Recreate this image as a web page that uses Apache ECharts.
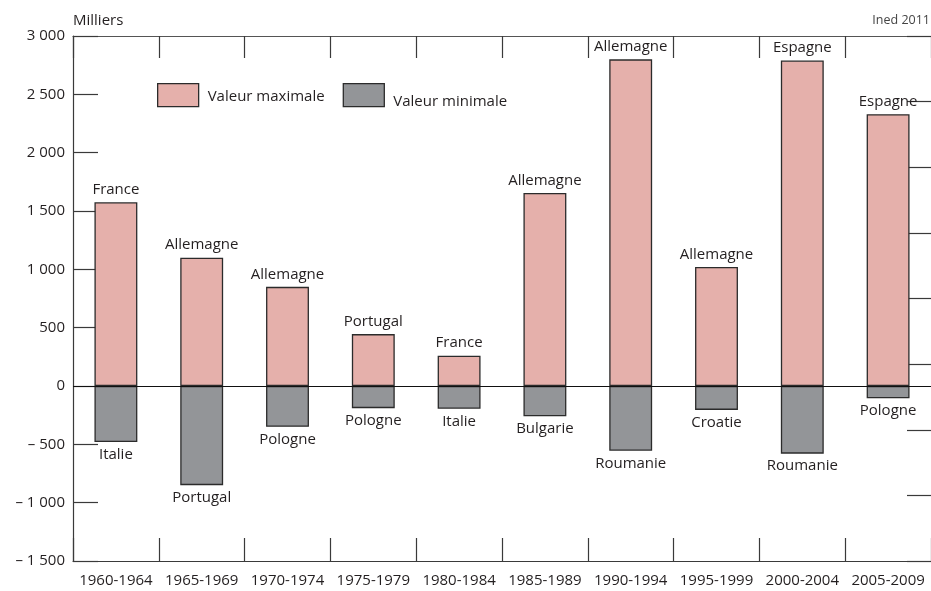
<!DOCTYPE html>
<html>
<head>
<meta charset="utf-8">
<script src="https://cdn.jsdelivr.net/npm/echarts@6/dist/echarts.min.js"></script>
<style>
  html, body { margin: 0; padding: 0; background: #fff; }
  #chart { width: 931px; height: 591px; }
</style>
</head>
<body>
<div id="chart"></div>
<script>
// Five-year periods
const periods = ['1960-1964', '1965-1969', '1970-1974', '1975-1979', '1980-1984',
                 '1985-1989', '1990-1994', '1995-1999', '2000-2004', '2005-2009'];

// Highest net migration of the period (thousands) and the country concerned
const maxValues = [1575, 1100, 850, 445, 260, 1655, 2800, 1020, 2790, 2330];
const maxCountries = ['France', 'Allemagne', 'Allemagne', 'Portugal', 'France',
                      'Allemagne', 'Allemagne', 'Allemagne', 'Espagne', 'Espagne'];

// Lowest net migration of the period (thousands) and the country concerned
const minValues = [-480, -850, -350, -190, -195, -260, -555, -205, -580, -105];
const minCountries = ['Italie', 'Portugal', 'Pologne', 'Pologne', 'Italie',
                      'Bulgarie', 'Roumanie', 'Croatie', 'Roumanie', 'Pologne'];

// Value axis range and step
const yMin = -1500, yMax = 3000, yStep = 500;

const seriesNames = ['Valeur maximale', 'Valeur minimale'];

const FONT = '"Open Sans", "Noto Sans", sans-serif';
const INK = '#231f20';
const AXIS = '#3a3a3a';

function frNumber(v) {
  const s = Math.abs(v).toString().replace(/\B(?=(\d{3})+(?!\d))/g, ' ');
  return v < 0 ? '– ' + s : s;
}

const chart = echarts.init(document.getElementById('chart'), null, { renderer: 'canvas' });

chart.setOption({
  animation: false,
  backgroundColor: '#fff',
  textStyle: { fontFamily: FONT, color: INK },
  title: [
    {
      text: 'Milliers', left: 73, top: 13, padding: 0,
      textStyle: { fontFamily: FONT, fontSize: 15, fontWeight: 'normal', color: INK }
    },
    {
      text: 'Ined 2011', right: 1, top: 14, padding: 0,
      textStyle: { fontFamily: FONT, fontSize: 12.5, fontWeight: 'normal', color: '#444' }
    }
  ],
  legend: {
    left: 157, top: 83, padding: 0,
    orient: 'horizontal',
    itemWidth: 41, itemHeight: 23, itemGap: 18,
    icon: 'rect',
    selectedMode: false,
    itemStyle: { borderColor: '#2b2b2b', borderWidth: 1.3 },
    data: seriesNames,
    formatter: name => (name === seriesNames[1] ? '{lo|' : '{hi|') + name + '}',
    textStyle: {
      fontFamily: FONT, fontSize: 15, color: INK,
      rich: {
        hi: { fontFamily: FONT, fontSize: 15, color: INK, padding: [4, 0, 0, 4] },
        lo: { fontFamily: FONT, fontSize: 15, color: INK, padding: [14, 0, 0, 4] }
      }
    }
  },
  grid: { left: 73, right: 0, top: 36, bottom: 30, containLabel: false },
  xAxis: [
    {
      type: 'category', data: periods, position: 'bottom',
      boundaryGap: true,
      axisLine: { onZero: false, lineStyle: { color: AXIS, width: 1.2 } },
      axisTick: { show: true, inside: true, length: 23, alignWithLabel: false,
                  lineStyle: { color: AXIS, width: 1.2 } },
      axisLabel: { margin: 12, fontFamily: FONT, fontSize: 15, color: INK, interval: 0 },
      splitLine: { show: false }
    },
    {
      type: 'category', data: periods, position: 'top',
      boundaryGap: true,
      axisLine: { onZero: false, lineStyle: { color: '#555', width: 1.2 } },
      axisTick: { show: true, inside: true, length: 22, lineStyle: { color: AXIS, width: 1.2 } },
      axisLabel: { show: false },
      splitLine: { show: false }
    }
  ],
  yAxis: [
    {
      type: 'value', min: yMin, max: yMax, interval: yStep,
      axisLine: { show: true, lineStyle: { color: AXIS, width: 1.2 } },
      axisTick: { show: true, inside: true, length: 25, lineStyle: { color: AXIS, width: 1.2 } },
      axisLabel: { margin: 8, fontFamily: FONT, fontSize: 15, color: INK, formatter: frNumber },
      splitLine: { show: false }
    },
    {
      // secondary scale on the right: tick marks only
      type: 'value', position: 'right', min: 0, max: 8, interval: 1,
      axisLine: { show: false },
      axisTick: { show: true, inside: true, length: 24, lineStyle: { color: AXIS, width: 1.2 } },
      axisLabel: { show: false },
      splitLine: { show: false }
    }
  ],
  series: [
    {
      name: seriesNames[0], type: 'bar', xAxisIndex: 0, yAxisIndex: 0,
      data: maxValues,
      barWidth: '50%', barGap: '-100%',
      itemStyle: { color: '#e5b0ab', borderColor: '#2b2b2b', borderWidth: 1.3 },
      label: {
        show: true, position: 'top', distance: 5,
        fontFamily: FONT, fontSize: 15, color: INK,
        formatter: p => maxCountries[p.dataIndex]
      },
      markLine: {
        silent: true, symbol: 'none',
        label: { show: false },
        lineStyle: { color: '#111', width: 1.2, type: 'solid' },
        data: [{ yAxis: 0 }]
      },
      z: 2
    },
    {
      name: seriesNames[1], type: 'bar', xAxisIndex: 0, yAxisIndex: 0,
      data: minValues,
      barWidth: '50%', barGap: '-100%',
      itemStyle: { color: '#939598', borderColor: '#2b2b2b', borderWidth: 1.3 },
      label: {
        show: true, position: 'bottom', distance: 5,
        fontFamily: FONT, fontSize: 15, color: INK,
        formatter: p => minCountries[p.dataIndex]
      },
      z: 2
    }
  ]
});
</script>
</body>
</html>
